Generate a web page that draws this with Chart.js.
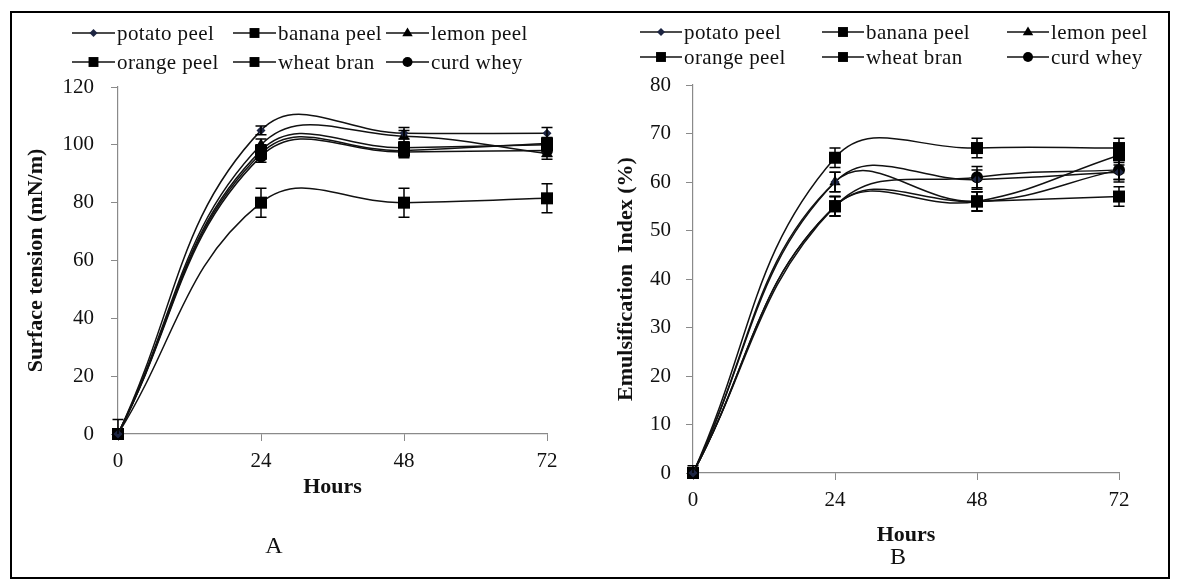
<!DOCTYPE html>
<html>
<head>
<meta charset="utf-8">
<script src="https://cdn.jsdelivr.net/npm/chart.js@4.4.1/dist/chart.umd.min.js"></script>
<style>
    html, body { margin: 0; padding: 0; background: #fff; }
    #wrap { position: relative; width: 1177px; height: 583px; overflow: hidden; }
    #frame { position: absolute; left: 10px; top: 11px; width: 1160px; height: 568px; border: 2px solid #000; box-sizing: border-box; }
    #chartA { position: absolute; left: 0; top: 0; }
    #chartB { position: absolute; left: 590px; top: 0; }
</style>
</head>
<body>
<div id="wrap">
    <div id="frame"></div>
    <canvas id="chartA" width="590" height="583"></canvas>
    <canvas id="chartB" width="587" height="583"></canvas>
</div>
<script>
// x: sampling time (h)
const hours = [0, 24, 48, 72];
const hourTicks = [0, 24, 48, 72];

const seriesNames = ["potato peel", "banana peel", "lemon peel", "orange peel", "wheat bran", "curd whey"];

// A — surface tension (mN/m)
const stPotato = [0, 105, 104, 104];
const stBanana = [0, 98, 99, 100];
const stLemon  = [0, 100, 103, 97];
const stOrange = [0, 97, 98, 100.5];
const stWheat  = [0, 80, 80, 81.5];
const stCurd   = [0, 96, 97.5, 98];

const stErrPotato = [0, 1.5, 2, 2];
const stErrBanana = [0, 2, 2, 2];
const stErrLemon  = [0, 2, 2, 2];
const stErrOrange = [0, 2, 2, 2];
const stErrWheat  = [5, 5, 5, 5];
const stErrCurd   = [0, 2, 2, 2];

// B — emulsification index (%)
const eiPotato = [0, 60, 60.5, 62];
const eiBanana = [0, 55, 56, 57];
const eiLemon  = [0, 60, 56, 62.5];
const eiOrange = [0, 55, 56, 65.5];
const eiWheat  = [0, 65, 67, 67];
const eiCurd   = [0, 55, 61, 62.5];

const eiErrPotato = [1.5, 2, 2, 2];
const eiErrBanana = [0, 2, 2, 2];
const eiErrLemon  = [0, 2, 2, 2];
const eiErrOrange = [0, 2, 2, 2];
const eiErrWheat  = [0, 2, 2, 2];
const eiErrCurd   = [0, 2, 2.2, 2];

const SERIF = "'Liberation Serif', 'DejaVu Serif', serif";
const AXIS_GREY = "#8a8a8a";

// marker look per series (same order as seriesNames)
const markerStyle = [
    { pointStyle: "rectRot",  radius: 4.5, legendRadius: 4,   color: "#1d2542" },
    { pointStyle: "rect",     radius: 8.5, legendRadius: 7,   color: "#000" },
    { pointStyle: "triangle", radius: 6.5, legendRadius: 5.5, color: "#000" },
    { pointStyle: "rect",     radius: 8.5, legendRadius: 7,   color: "#000" },
    { pointStyle: "rect",     radius: 8.5, legendRadius: 7,   color: "#000" },
    { pointStyle: "circle",   radius: 6,   legendRadius: 5,   color: "#000" },
];

function makeDatasets(valueLists, errLists) {
    return valueLists.map((vals, i) => {
        const m = markerStyle[i];
        return {
            label: seriesNames[i],
            data: hours.map((h, j) => ({ x: h, y: vals[j] })),
            errors: errLists[i],
            borderColor: "#111",
            borderWidth: 1.5,
            pointStyle: m.pointStyle,
            pointRadius: m.radius,
            pointBackgroundColor: m.color,
            pointBorderColor: m.color,
            pointBorderWidth: 0,
            tension: 0.42,
            clip: false,
            fill: false,
        };
    });
}

// ------------------------------------------------------------
// error bars (through the y scale)
// ------------------------------------------------------------
const errorBars = {
    id: "errorBars",
    afterDatasetsDraw(chart) {
        const ctx = chart.ctx;
        const ys = chart.scales.y;
        ctx.save();
        ctx.strokeStyle = "#000";
        ctx.lineWidth = 1.5;
        chart.data.datasets.forEach((ds, i) => {
            const meta = chart.getDatasetMeta(i);
            meta.data.forEach((pt, j) => {
                const e = ds.errors ? ds.errors[j] : 0;
                if (!e) return;
                const v = ds.data[j].y;
                const top = ys.getPixelForValue(v + e);
                const lowVal = v - e;
                const bot = ys.getPixelForValue(Math.max(lowVal, ys.min));
                const cap = 5.5;
                ctx.beginPath();
                ctx.moveTo(pt.x, top);
                ctx.lineTo(pt.x, bot);
                ctx.moveTo(pt.x - cap, top);
                ctx.lineTo(pt.x + cap, top);
                if (lowVal >= ys.min) {
                    ctx.moveTo(pt.x - cap, bot);
                    ctx.lineTo(pt.x + cap, bot);
                }
                ctx.stroke();
            });
        });
        ctx.restore();
    },
};

// ------------------------------------------------------------
// legend at fixed spots (line + marker + text, like the original)
// ------------------------------------------------------------
function drawMarker(ctx, style, r, x, y, color) {
    ctx.fillStyle = color;
    ctx.beginPath();
    if (style === "rect") {
        const s = r * Math.SQRT1_2;
        ctx.rect(x - s, y - s, 2 * s, 2 * s);
    } else if (style === "rectRot") {
        ctx.moveTo(x, y - r); ctx.lineTo(x + r, y); ctx.lineTo(x, y + r); ctx.lineTo(x - r, y);
        ctx.closePath();
    } else if (style === "triangle") {
        ctx.moveTo(x, y - r); ctx.lineTo(x + r * 0.95, y + r * 0.6); ctx.lineTo(x - r * 0.95, y + r * 0.6);
        ctx.closePath();
    } else {
        ctx.arc(x, y, r, 0, Math.PI * 2);
    }
    ctx.fill();
}

const fixedLegend = {
    id: "fixedLegend",
    afterDraw(chart, args, opts) {
        const ctx = chart.ctx;
        ctx.save();
        ctx.font = `21px ${SERIF}`;
        ctx.letterSpacing = "0.4px";
        ctx.textBaseline = "middle";
        ctx.textAlign = "left";
        chart.data.datasets.forEach((ds, i) => {
            const col = i % 3, row = Math.floor(i / 3);
            const x0 = opts.cols[col], y = opts.rows[row];
            const x1 = x0 + opts.lineLen;
            ctx.strokeStyle = "#111";
            ctx.lineWidth = 1.5;
            ctx.beginPath();
            ctx.moveTo(x0, y);
            ctx.lineTo(x1, y);
            ctx.stroke();
            const m = markerStyle[i];
            drawMarker(ctx, m.pointStyle, m.legendRadius, (x0 + x1) / 2, y, m.color);
            ctx.fillStyle = "#111";
            ctx.fillText(ds.label, x1 + 2, y + 1);
        });
        // panel letter under the axis title
        ctx.letterSpacing = "0px";
        ctx.font = `24px ${SERIF}`;
        ctx.textAlign = "center";
        ctx.fillText(opts.letter, opts.letterX, opts.letterY);
        ctx.restore();
    },
};

function makeChart(canvasId, cfg) {
    return new Chart(document.getElementById(canvasId), {
        type: "line",
        data: { datasets: cfg.datasets },
        plugins: [errorBars, fixedLegend],
        options: {
            responsive: false,
            animation: false,
            layout: { padding: { left: 0, top: cfg.top, right: cfg.right, bottom: cfg.bottom } },
            plugins: {
                legend: { display: false },
                tooltip: { enabled: false },
                fixedLegend: cfg.legend,
            },
            scales: {
                x: {
                    type: "linear",
                    min: 0,
                    max: 72,
                    afterBuildTicks: (s) => { s.ticks = hourTicks.map(v => ({ value: v })); },
                    afterFit: (s) => { s.height = cfg.xAxisHeight; },
                    grid: { display: true, drawOnChartArea: false, drawTicks: true, tickLength: 7, color: AXIS_GREY },
                    border: { display: true, color: AXIS_GREY, width: 1.2 },
                    ticks: { color: "#111", padding: 8, maxRotation: 0, font: { family: SERIF, size: 21 } },
                    title: {
                        display: true,
                        text: "Hours",
                        color: "#111",
                        font: { family: SERIF, size: 22, weight: "bold", lineHeight: 1 },
                        padding: { top: 0, bottom: cfg.hoursPad },
                    },
                },
                y: {
                    min: 0,
                    max: cfg.yMax,
                    ticks: { stepSize: cfg.yStep, color: "#111", padding: cfg.yTickPad, font: { family: SERIF, size: 21 } },
                    afterFit: (s) => { s.width = cfg.yAxisWidth; },
                    grid: { display: true, drawOnChartArea: false, drawTicks: true, tickLength: 7, color: AXIS_GREY },
                    border: { display: true, color: AXIS_GREY, width: 1.2 },
                    title: {
                        display: true,
                        text: cfg.yTitle,
                        color: "#111",
                        font: { family: SERIF, size: 22, weight: "bold" },
                        padding: { top: 22.8, bottom: 0 },
                    },
                },
            },
        },
    });
}

document.addEventListener("DOMContentLoaded", () => {
    makeChart("chartA", {
        datasets: makeDatasets(
            [stPotato, stBanana, stLemon, stOrange, stWheat, stCurd],
            [stErrPotato, stErrBanana, stErrLemon, stErrOrange, stErrWheat, stErrCurd]
        ),
        yMax: 120, yStep: 20,
        yTitle: "Surface tension (mN/m)",
        top: 87, right: 43, bottom: 48,
        yAxisWidth: 118, yTickPad: 17,
        xAxisHeight: 101, hoursPad: 37,
        legend: { cols: [72, 233, 386], rows: [33, 62], lineLen: 43, letter: "A", letterX: 274, letterY: 547 },
    });

    makeChart("chartB", {
        datasets: makeDatasets(
            [eiPotato, eiBanana, eiLemon, eiOrange, eiWheat, eiCurd],
            [eiErrPotato, eiErrBanana, eiErrLemon, eiErrOrange, eiErrWheat, eiErrCurd]
        ),
        yMax: 80, yStep: 10,
        yTitle: "Emulsification  Index (%)",
        top: 85, right: 58, bottom: 37,
        yAxisWidth: 103, yTickPad: 15,
        xAxisHeight: 73, hoursPad: 0,
        legend: { cols: [50, 232, 417], rows: [32, 57], lineLen: 42, letter: "B", letterX: 308, letterY: 558 },
    });
});
</script>
</body>
</html>
